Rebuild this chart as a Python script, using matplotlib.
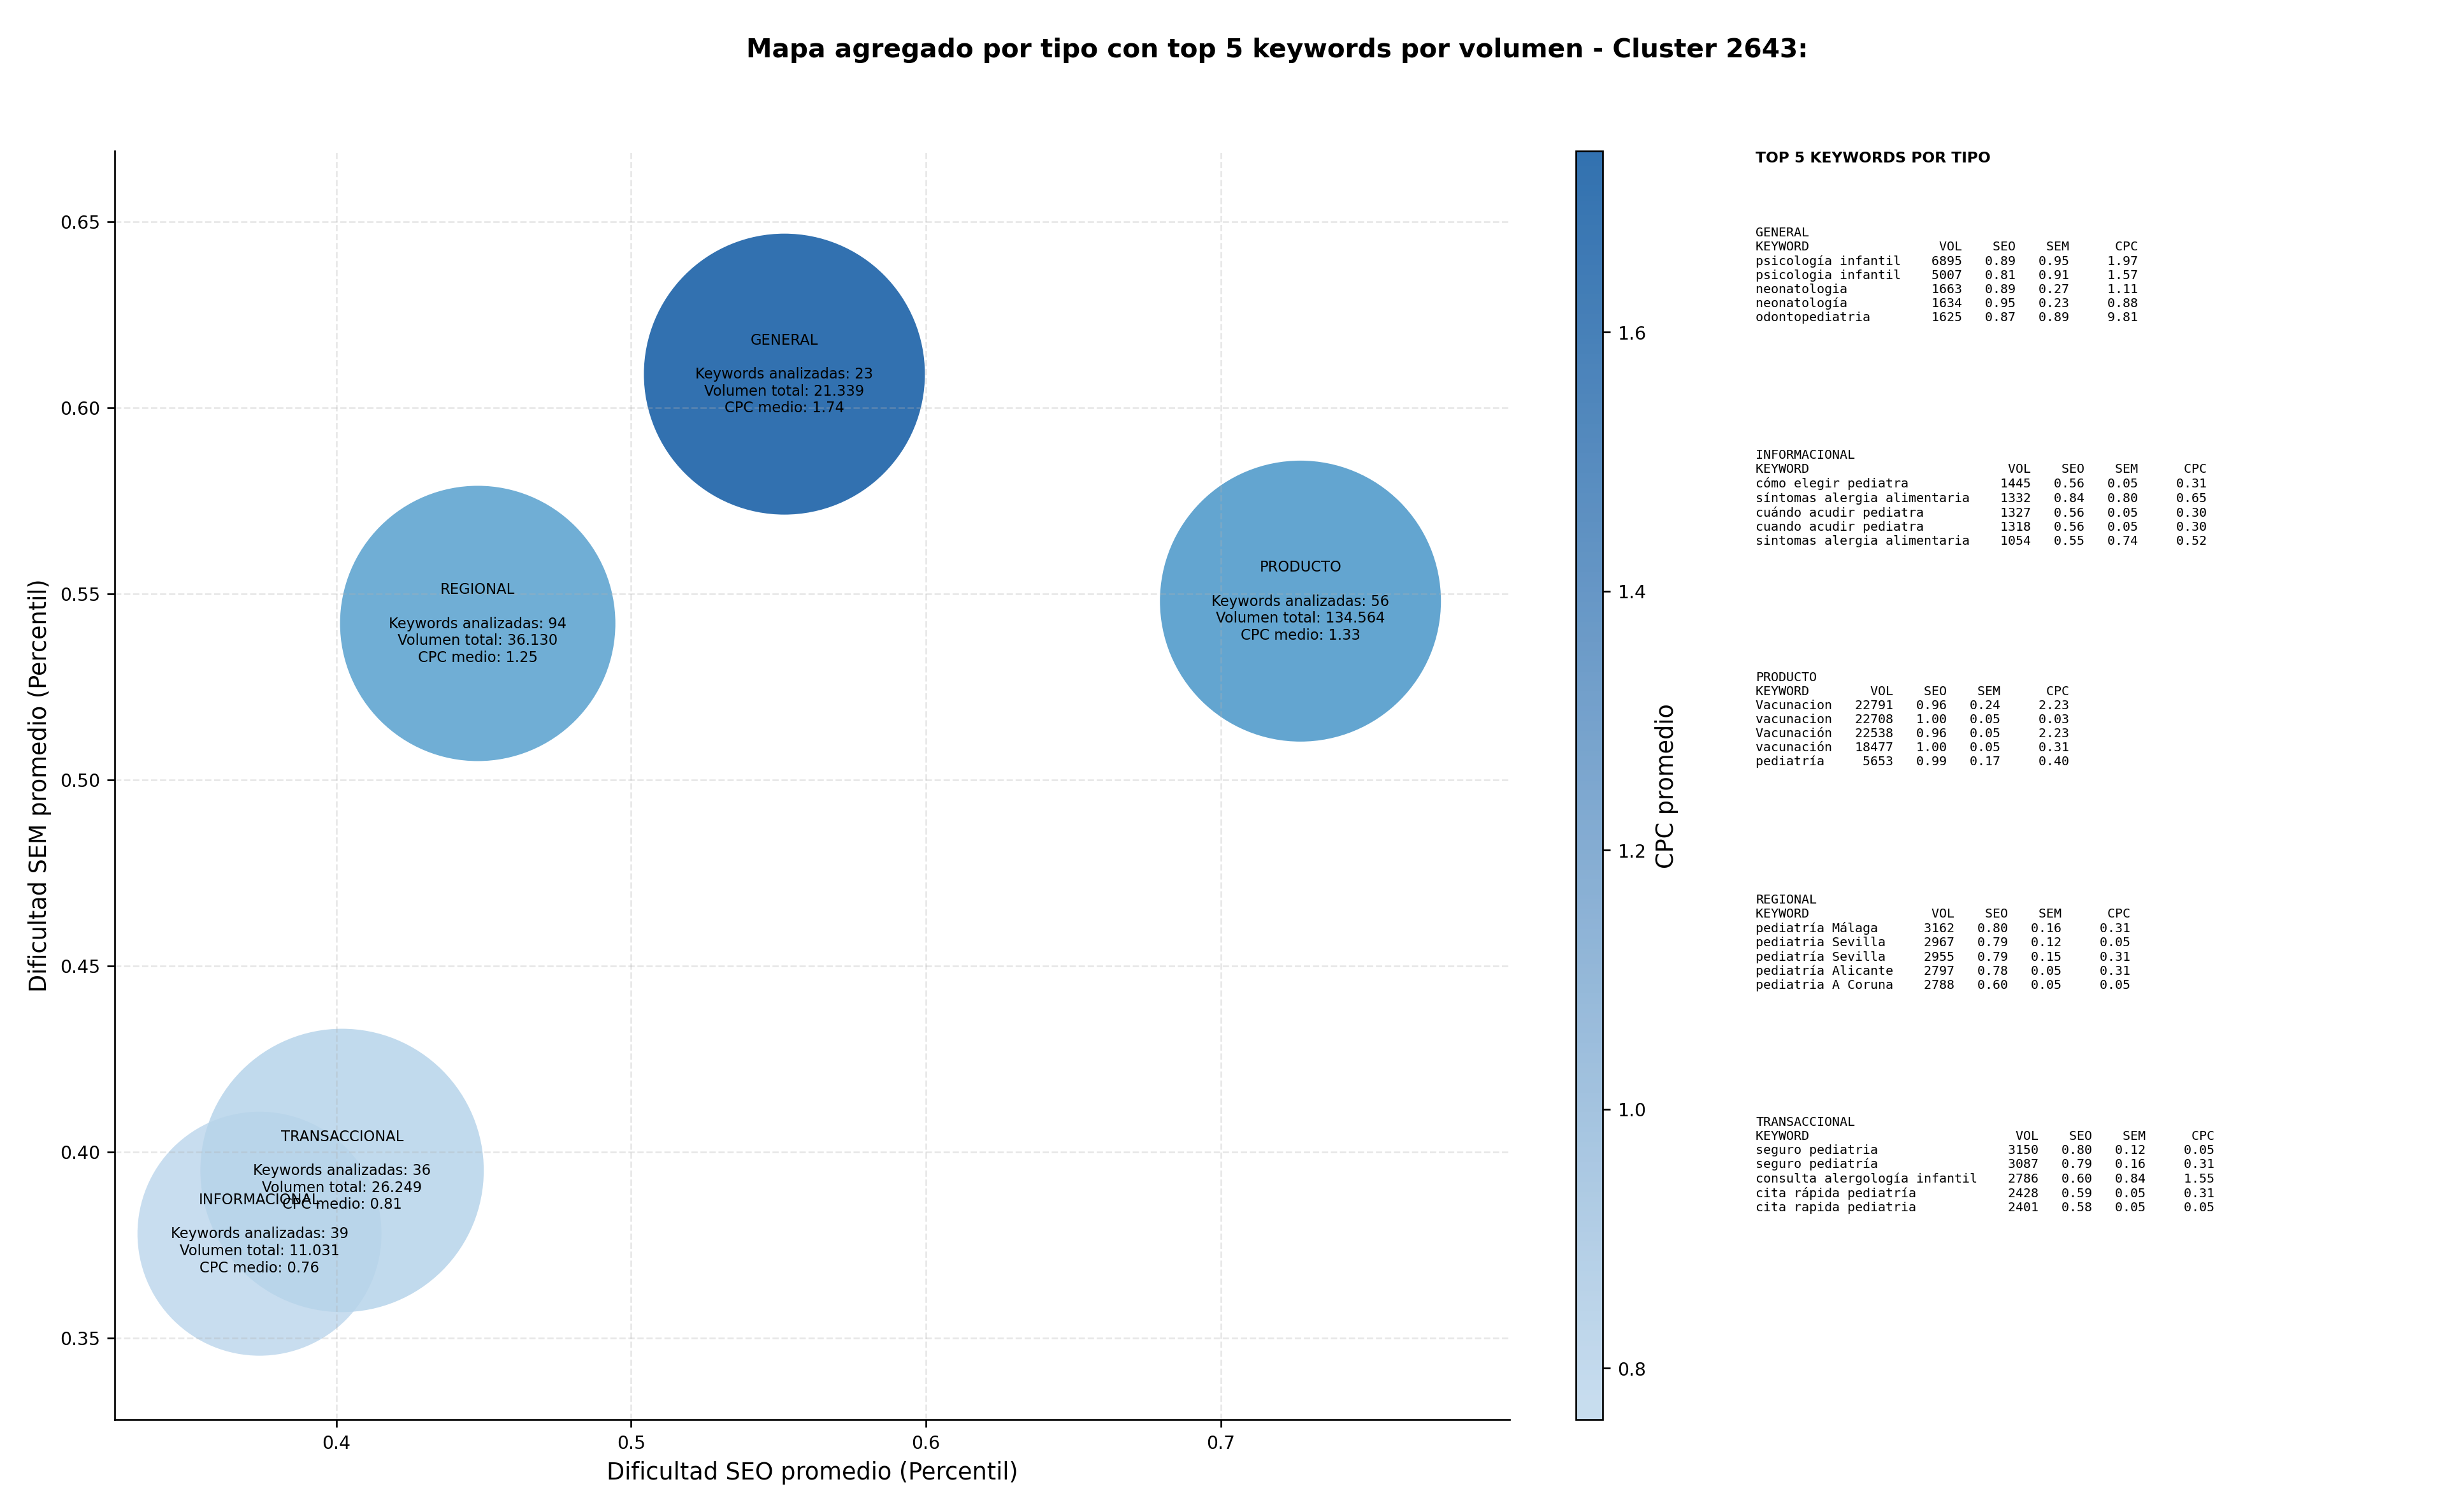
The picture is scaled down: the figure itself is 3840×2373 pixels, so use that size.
import matplotlib
matplotlib.use("Agg")
import matplotlib.pyplot as plt
import matplotlib.colors as mcolors

# aggregated data per type
tipos = ["GENERAL", "INFORMACIONAL", "PRODUCTO", "REGIONAL", "TRANSACCIONAL"]
seo_medio = [0.552, 0.374, 0.727, 0.448, 0.402]
sem_medio = [0.609, 0.378, 0.548, 0.542, 0.395]
cpc_medio = [1.74, 0.76, 1.33, 1.25, 0.81]
n_keywords = [23, 39, 56, 94, 36]
volumen = ["21.339", "11.031", "134.564", "36.130", "26.249"]
bubble_size = [17500, 13200, 17500, 16800, 17800]

# top 5 keywords per type: (keyword, vol, seo, sem, cpc)
top_general = [("psicología infantil", 6895, 0.89, 0.95, 1.97),
               ("psicologia infantil", 5007, 0.81, 0.91, 1.57),
               ("neonatologia", 1663, 0.89, 0.27, 1.11),
               ("neonatología", 1634, 0.95, 0.23, 0.88),
               ("odontopediatria", 1625, 0.87, 0.89, 9.81)]
top_informacional = [("cómo elegir pediatra", 1445, 0.56, 0.05, 0.31),
                     ("síntomas alergia alimentaria", 1332, 0.84, 0.80, 0.65),
                     ("cuándo acudir pediatra", 1327, 0.56, 0.05, 0.30),
                     ("cuando acudir pediatra", 1318, 0.56, 0.05, 0.30),
                     ("sintomas alergia alimentaria", 1054, 0.55, 0.74, 0.52)]
top_producto = [("Vacunacion", 22791, 0.96, 0.24, 2.23),
                ("vacunacion", 22708, 1.00, 0.05, 0.03),
                ("Vacunación", 22538, 0.96, 0.05, 2.23),
                ("vacunación", 18477, 1.00, 0.05, 0.31),
                ("pediatría", 5653, 0.99, 0.17, 0.40)]
top_regional = [("pediatría Málaga", 3162, 0.80, 0.16, 0.31),
                ("pediatria Sevilla", 2967, 0.79, 0.12, 0.05),
                ("pediatría Sevilla", 2955, 0.79, 0.15, 0.31),
                ("pediatría Alicante", 2797, 0.78, 0.05, 0.31),
                ("pediatria A Coruna", 2788, 0.60, 0.05, 0.05)]
top_transaccional = [("seguro pediatria", 3150, 0.80, 0.12, 0.05),
                     ("seguro pediatría", 3087, 0.79, 0.16, 0.31),
                     ("consulta alergología infantil", 2786, 0.60, 0.84, 1.55),
                     ("cita rápida pediatría", 2428, 0.59, 0.05, 0.31),
                     ("cita rapida pediatria", 2401, 0.58, 0.05, 0.05)]
tops = [top_general, top_informacional, top_producto, top_regional, top_transaccional]

fig = plt.figure(figsize=(16, 9.89), dpi=240)
ax = fig.add_axes([0.047, 0.061, 0.57, 0.839])
cax = fig.add_axes([0.644, 0.061, 0.011, 0.839])

# colour range of Blues mapped so vmin/vmax don't hit the extremes
cmap = plt.get_cmap("Blues")
norm_full = mcolors.Normalize(0.3, 2.0)
cols = [cmap(norm_full(c)) for c in cpc_medio]
ax.scatter(seo_medio, sem_medio, s=bubble_size, c=cols, alpha=0.85, linewidths=0)
sm = plt.cm.ScalarMappable(norm=mcolors.Normalize(min(cpc_medio), max(cpc_medio)),
                           cmap=mcolors.LinearSegmentedColormap.from_list(
                               "b", [cmap(norm_full(min(cpc_medio))), cmap(norm_full(max(cpc_medio)))]))
cb = fig.colorbar(sm, cax=cax, alpha=0.85)
cb.set_label("CPC promedio", fontsize=11)
cb.ax.tick_params(labelsize=8.5)

for t, x, y, n, v, c in zip(tipos, seo_medio, sem_medio, n_keywords, volumen, cpc_medio):
    ax.text(x, y, f"{t}\n\nKeywords analizadas: {n}\nVolumen total: {v}\nCPC medio: {c:.2f}",
            ha="center", va="center", fontsize=6.8)

ax.set_xlim(0.325, 0.798)
ax.set_ylim(0.328, 0.669)
ax.set_xticks([0.4, 0.5, 0.6, 0.7])
ax.set_xlabel("Dificultad SEO promedio (Percentil)", fontsize=11)
ax.set_ylabel("Dificultad SEM promedio (Percentil)", fontsize=11)
ax.tick_params(labelsize=8.5)
ax.grid(True, linestyle="--", alpha=0.3)
ax.spines["top"].set_visible(False)
ax.spines["right"].set_visible(False)

fig.suptitle("Mapa agregado por tipo con top 5 keywords por volumen - Cluster 2643:",
             fontsize=12.2, fontweight="bold", x=0.522, y=0.975)

fig.text(0.7175, 0.9, "TOP 5 KEYWORDS POR TIPO", fontsize=7, fontweight="bold", va="top")
block_y = [0.85, 0.703, 0.556, 0.409, 0.262]
for t, rows, y in zip(tipos, tops, block_y):
    w = max(len(r[0]) for r in rows) + 2
    lines = [t, f"{'KEYWORD':<{w}}{'VOL':>6}{'SEO':>7}{'SEM':>7}{'CPC':>9}"]
    for kw, vol, seo, sem, cpc in rows:
        lines.append(f"{kw:<{w}}{vol:>6}{seo:>7.2f}{sem:>7.2f}{cpc:>9.2f}")
    fig.text(0.7175, y, "\n".join(lines), fontsize=6, family="DejaVu Sans Mono",
             va="top", linespacing=1.2)

fig.savefig("out.png", dpi=240)
